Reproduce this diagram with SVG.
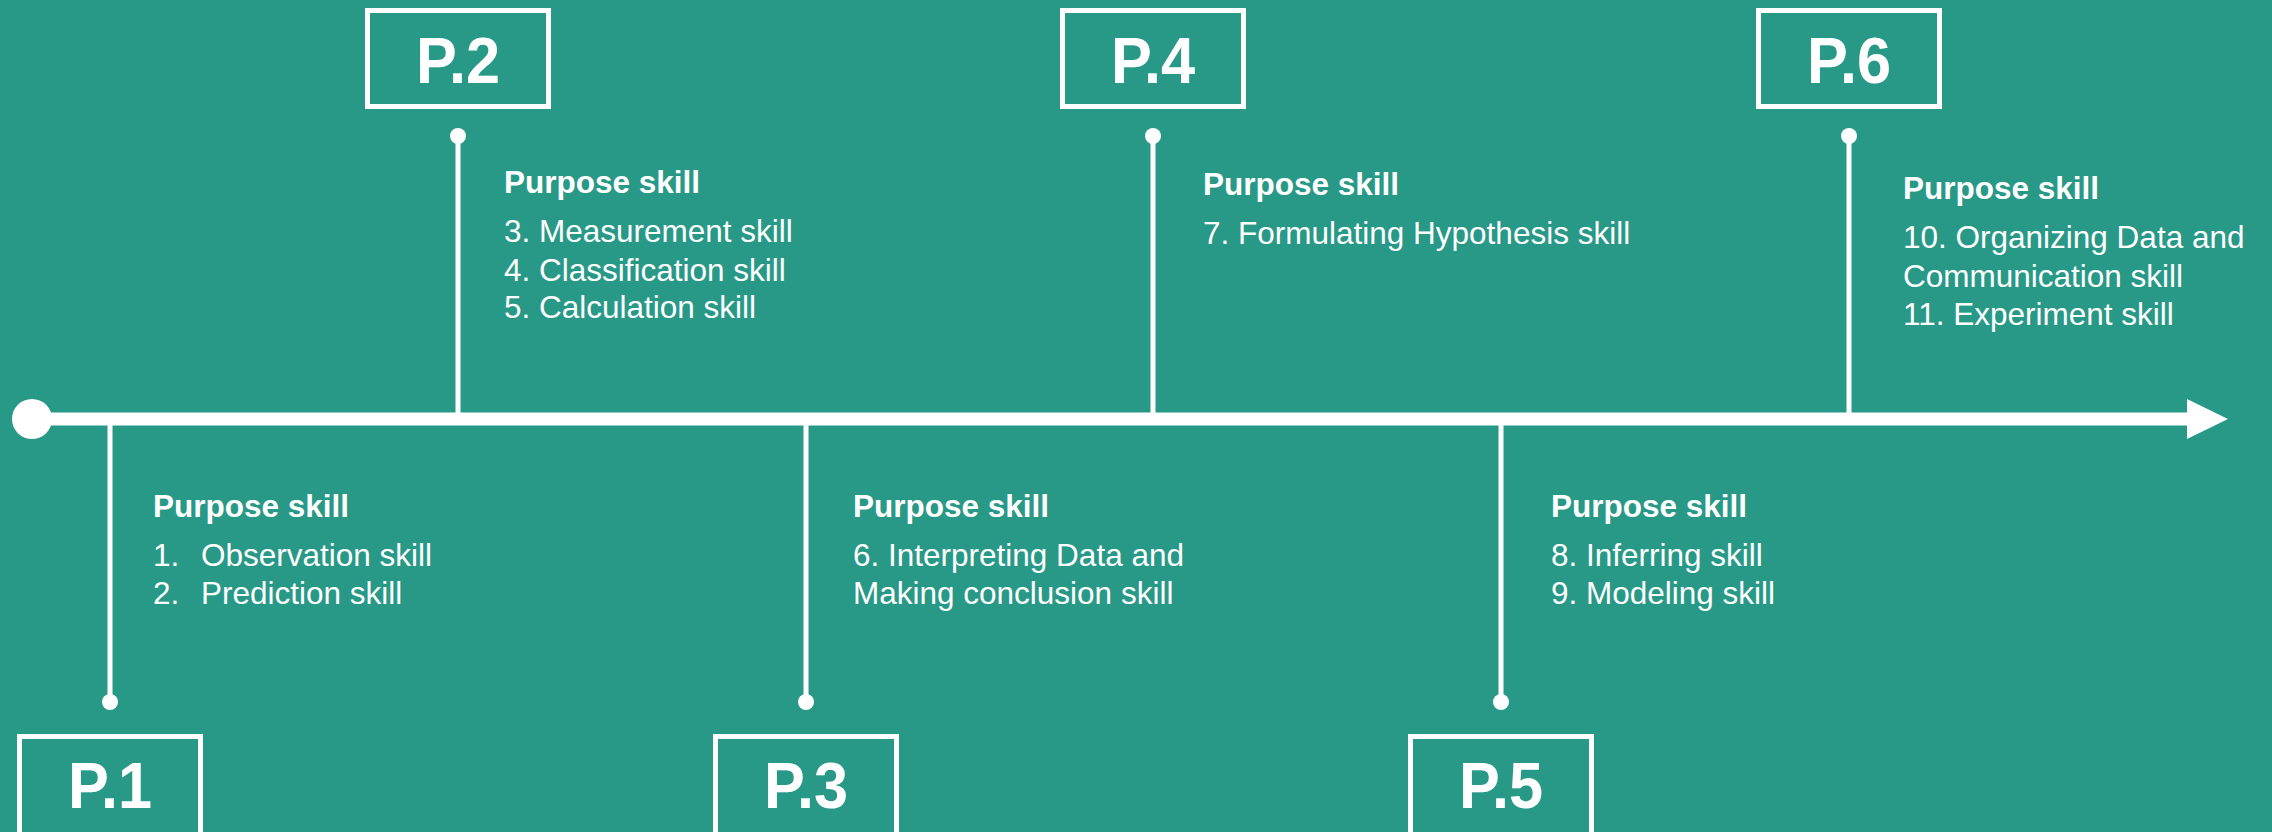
<svg xmlns="http://www.w3.org/2000/svg" width="2272" height="832" viewBox="0 0 2272 832">
<style>
.box{fill:none;stroke:#ffffff;stroke-width:5}
.lbl{font-family:"Liberation Sans",Arial,sans-serif;font-weight:bold;font-size:64px;fill:#ffffff;text-anchor:middle}
.hd{font-family:"Liberation Sans",Arial,sans-serif;font-weight:bold;font-size:31.5px;fill:#ffffff}
.it{font-family:"Liberation Sans",Arial,sans-serif;font-size:31.5px;fill:#ffffff}
.stem{stroke:#ffffff;stroke-width:5;fill:none}
.dot{fill:#ffffff}
</style>
<rect x="0" y="0" width="2272" height="832" fill="#289986"/>
<g id="connectors">
<line x1="32" y1="419" x2="2192" y2="419" stroke="#ffffff" stroke-width="13"/>
<circle cx="32" cy="419" r="20" fill="#ffffff"/>
<polygon points="2187,399 2228,419 2187,439" fill="#ffffff"/>
<line class="stem" x1="110" y1="419" x2="110" y2="702"/>
<circle class="dot" cx="110" cy="702" r="8"/>
<line class="stem" x1="458" y1="136" x2="458" y2="419"/>
<circle class="dot" cx="458" cy="136" r="8"/>
<line class="stem" x1="806" y1="419" x2="806" y2="702"/>
<circle class="dot" cx="806" cy="702" r="8"/>
<line class="stem" x1="1153" y1="136" x2="1153" y2="419"/>
<circle class="dot" cx="1153" cy="136" r="8"/>
<line class="stem" x1="1501" y1="419" x2="1501" y2="702"/>
<circle class="dot" cx="1501" cy="702" r="8"/>
<line class="stem" x1="1849" y1="136" x2="1849" y2="419"/>
<circle class="dot" cx="1849" cy="136" r="8"/>
</g>
<g id="p1">
<rect class="box" x="19.5" y="736.5" width="181" height="130"/>
<text class="lbl" x="110" y="808" textLength="84" lengthAdjust="spacingAndGlyphs">P.1</text>
<text class="hd" x="153" y="517">Purpose skill</text>
<text class="it" y="566"><tspan x="153">1.</tspan><tspan x="201">Observation skill</tspan></text>
<text class="it" y="604"><tspan x="153">2.</tspan><tspan x="201">Prediction skill</tspan></text>
</g>
<g id="p2">
<rect class="box" x="367.5" y="10.5" width="181" height="96"/>
<text class="lbl" x="458" y="83" textLength="84" lengthAdjust="spacingAndGlyphs">P.2</text>
<text class="hd" x="504" y="193">Purpose skill</text>
<text class="it" x="504" y="242">3. Measurement skill</text>
<text class="it" x="504" y="281">4. Classification skill</text>
<text class="it" x="504" y="318">5. Calculation skill</text>
</g>
<g id="p3">
<rect class="box" x="715.5" y="736.5" width="181" height="130"/>
<text class="lbl" x="806" y="808" textLength="84" lengthAdjust="spacingAndGlyphs">P.3</text>
<text class="hd" x="853" y="517">Purpose skill</text>
<text class="it" x="853" y="566">6. Interpreting Data and</text>
<text class="it" x="853" y="604">Making conclusion skill</text>
</g>
<g id="p4">
<rect class="box" x="1062.5" y="10.5" width="181" height="96"/>
<text class="lbl" x="1153" y="83" textLength="84" lengthAdjust="spacingAndGlyphs">P.4</text>
<text class="hd" x="1203" y="195">Purpose skill</text>
<text class="it" x="1203" y="244">7. Formulating Hypothesis skill</text>
</g>
<g id="p5">
<rect class="box" x="1410.5" y="736.5" width="181" height="130"/>
<text class="lbl" x="1501" y="808" textLength="84" lengthAdjust="spacingAndGlyphs">P.5</text>
<text class="hd" x="1551" y="517">Purpose skill</text>
<text class="it" x="1551" y="566">8. Inferring skill</text>
<text class="it" x="1551" y="604">9. Modeling skill</text>
</g>
<g id="p6">
<rect class="box" x="1758.5" y="10.5" width="181" height="96"/>
<text class="lbl" x="1849" y="83" textLength="84" lengthAdjust="spacingAndGlyphs">P.6</text>
<text class="hd" x="1903" y="199">Purpose skill</text>
<text class="it" x="1903" y="248">10. Organizing Data and</text>
<text class="it" x="1903" y="287">Communication skill</text>
<text class="it" x="1903" y="325">11. Experiment skill</text>
</g>
</svg>
